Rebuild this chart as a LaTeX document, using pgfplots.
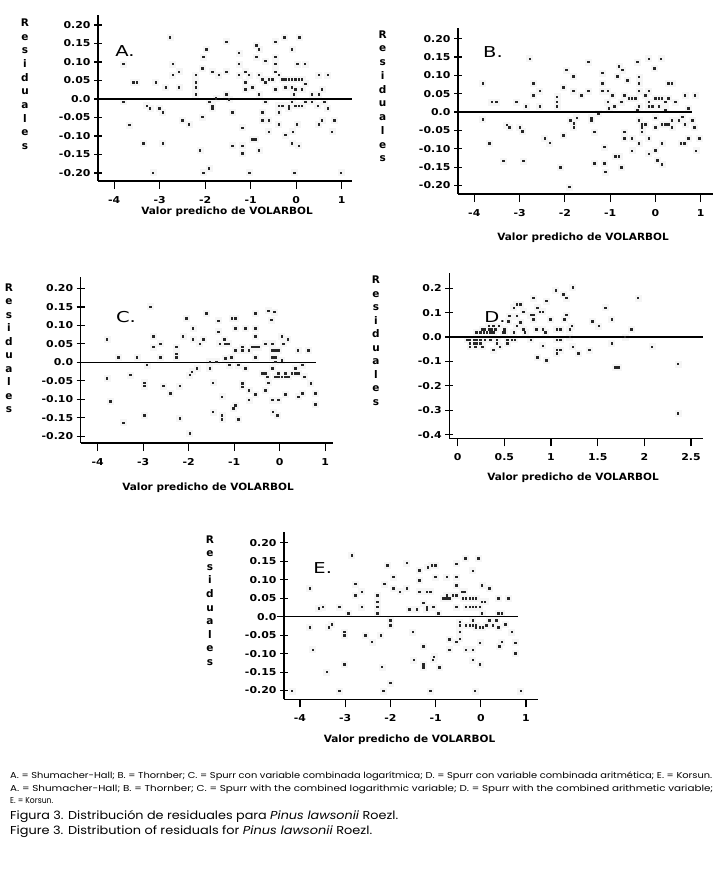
\documentclass[border=0pt]{standalone}
\usepackage{pgfplots}
\pgfplotsset{compat=1.18}
\usepackage{pgfplotstable}
\usepackage{fontspec}
\setmainfont{DejaVu Sans}
\newfontfamily\tickfont[FakeStretch=1.15]{DejaVu Sans}
\newfontfamily\labfont[FakeStretch=1.05]{DejaVu Sans}
\newfontfamily\capfont{Poppins}

\pgfplotstableread{
x y
-2.78 0.167
-0.26 0.167
0.07 0.167
-1.54 0.155
-0.46 0.155
-1.98 0.134
-0.88 0.146
-0.82 0.134
-0.10 0.134
-1.26 0.125
-3.80 0.095
-2.72 0.095
-2.05 0.114
-1.26 0.095
-0.88 0.114
-0.68 0.103
-0.46 0.095
-0.46 0.114
0.02 0.095
0.19 0.095
-2.07 0.083
-3.58 0.045
-3.51 0.045
-3.09 0.045
-2.87 0.032
-2.72 0.065
-2.58 0.074
-2.58 0.032
-2.21 0.065
-2.21 0.045
-2.21 0.032
-2.21 0.013
-1.85 0.074
-1.71 0.065
-1.54 0.074
-1.26 0.065
-1.12 0.074
-1.12 0.045
-1.12 0.026
-1.04 0.065
-0.97 0.032
-0.82 0.065
-0.75 0.053
-0.61 0.053
-0.53 0.053
-0.46 0.074
-0.39 0.065
-0.31 0.053
-0.24 0.053
-0.17 0.053
-0.10 0.053
-0.02 0.053
0.05 0.053
0.12 0.053
-0.24 0.032
-0.10 0.032
-0.02 0.026
0.12 0.026
0.20 0.042
-0.46 0.026
-0.68 0.045
0.49 0.065
0.69 0.065
0.56 0.026
0.34 0.013
0.49 0.013
-0.82 0.013
-1.54 0.013
-0.06 0.013
-3.80 -0.007
-1.77 0.002
-1.48 0.000
-1.91 -0.007
-1.85 -0.018
-1.85 -0.025
-0.68 -0.007
-0.10 -0.007
0.20 -0.007
0.34 -0.007
0.61 -0.007
-3.29 -0.018
-3.22 -0.025
-3.01 -0.025
-2.94 -0.036
-0.39 -0.018
-0.31 -0.018
-0.39 -0.036
-0.17 -0.018
-0.02 -0.018
0.05 -0.018
0.12 -0.018
-0.17 -0.025
0.47 -0.018
0.69 -0.025
-0.75 -0.036
-1.41 -0.036
-2.07 -0.048
-2.51 -0.057
-2.36 -0.068
-0.75 -0.057
-0.61 -0.057
-0.39 -0.068
0.56 -0.057
0.83 -0.057
-3.67 -0.070
0.01 -0.068
0.49 -0.068
-1.19 -0.077
-0.61 -0.088
-0.08 -0.088
-0.24 -0.097
0.78 -0.088
-0.97 -0.108
-0.90 -0.108
-3.36 -0.120
-2.94 -0.120
-1.41 -0.126
-1.19 -0.126
-0.82 -0.138
-0.10 -0.120
0.05 -0.126
-2.12 -0.138
-1.19 -0.147
-1.92 -0.187
-3.15 -0.199
-2.05 -0.199
-1.03 -0.199
-0.04 -0.199
0.98 -0.199
}\dataA

\pgfplotstableread{
x y
-3.82 0.078
-3.82 -0.020
-3.62 0.028
-3.52 0.028
-3.07 0.028
-2.86 0.016
-2.78 0.146
-2.70 0.078
-2.70 0.046
-2.56 0.058
-2.56 0.016
-3.29 -0.035
-3.23 -0.042
-3.00 -0.042
-2.94 -0.052
-3.67 -0.085
-3.36 -0.133
-2.92 -0.133
-2.45 -0.072
-2.34 -0.084
-2.18 0.042
-2.18 0.028
-2.18 0.016
-2.04 0.067
-1.97 0.115
-1.82 0.098
-1.82 0.058
-2.04 -0.063
-2.10 -0.151
-1.90 -0.204
-1.88 -0.022
-1.81 -0.031
-1.81 -0.042
-1.74 -0.015
-1.64 0.046
-1.49 0.058
-1.49 0.137
-1.42 -0.015
-1.42 -0.022
-1.35 -0.054
-1.35 -0.140
-1.27 -0.004
-1.18 0.107
-1.18 0.078
-1.18 0.058
-1.13 -0.095
-1.13 -0.140
-1.11 -0.163
-1.06 0.058
-1.06 0.028
-1.03 0.010
-0.96 0.046
-0.91 0.016
-0.89 -0.120
-0.81 -0.120
-0.84 0.098
-0.81 0.125
-0.74 0.115
-0.76 0.028
-0.76 -0.151
-0.69 0.046
-0.69 -0.054
-0.69 -0.072
-0.62 0.087
-0.59 0.037
-0.52 -0.105
-0.52 0.037
-0.52 -0.072
-0.45 0.037
-0.40 0.137
-0.37 0.096
-0.37 0.078
-0.37 0.058
-0.37 0.016
-0.40 0.007
-0.37 -0.022
-0.37 -0.085
-0.30 -0.033
-0.30 -0.042
-0.30 -0.054
-0.23 -0.033
-0.23 0.046
-0.15 0.146
-0.15 0.058
-0.15 0.028
-0.15 0.016
-0.15 -0.072
-0.15 -0.113
-0.07 0.016
-0.03 0.119
-0.01 0.037
-0.01 -0.015
-0.01 -0.042
-0.01 -0.104
0.04 -0.131
0.07 0.037
0.07 0.016
0.12 0.146
0.14 0.037
0.14 -0.033
0.14 -0.085
0.14 -0.142
0.21 0.028
0.21 0.007
0.21 -0.033
0.28 0.037
0.28 -0.033
0.36 0.078
0.28 0.078
0.36 -0.022
0.36 -0.042
0.43 0.028
0.51 -0.022
0.59 -0.013
0.65 0.046
0.63 -0.085
0.65 -0.033
0.72 0.010
0.72 -0.072
0.81 -0.022
0.87 0.046
0.85 -0.042
0.89 -0.105
0.97 -0.072
0.56 -0.085
}\dataB

\pgfplotstableread{
x y
-3.80 0.062
-3.80 -0.043
-3.73 -0.106
-3.55 0.014
-3.44 -0.163
-3.29 -0.034
-3.14 0.014
-2.92 -0.007
-2.98 -0.055
-2.98 -0.064
-2.98 -0.143
-2.85 0.151
-2.78 0.071
-2.78 0.042
-2.63 0.051
-2.63 0.014
-2.56 -0.064
-2.41 -0.084
-2.28 0.042
-2.28 0.024
-2.28 0.014
-2.20 -0.064
-2.20 -0.152
-2.13 0.071
-2.06 0.119
-1.98 -0.192
-1.98 -0.034
-1.93 -0.025
-1.91 0.092
-1.91 0.062
-1.82 -0.016
-1.76 0.051
-1.68 0.062
-1.62 0.133
-1.54 0.002
-1.54 -0.016
-1.47 -0.055
-1.47 -0.134
-1.40 0.002
-1.35 0.113
-1.35 0.083
-1.32 0.051
-1.27 -0.093
-1.27 -0.143
-1.27 -0.154
-1.22 0.062
-1.20 0.051
-1.13 0.051
-1.20 0.011
-1.11 -0.007
-1.07 0.014
-1.05 0.119
-0.98 0.092
-0.98 0.119
-0.98 0.033
-1.02 -0.125
-0.98 -0.116
-0.91 -0.154
-0.91 -0.007
-0.83 0.033
-0.83 0.042
-0.83 -0.057
-0.83 -0.066
-0.76 -0.016
-0.76 0.092
-0.68 0.033
-0.68 -0.075
-0.68 -0.102
-0.61 0.042
-0.54 0.133
-0.54 0.092
-0.54 0.071
-0.54 0.042
-0.54 0.014
-0.54 -0.086
-0.47 0.042
-0.39 -0.030
-0.32 -0.030
-0.25 -0.055
-0.32 0.051
-0.17 0.051
-0.32 -0.075
-0.28 -0.039
-0.17 0.033
-0.17 0.014
-0.10 0.014
-0.10 0.033
-0.03 0.033
-0.12 0.137
-0.19 0.115
-0.25 0.140
-0.17 -0.016
-0.17 -0.102
-0.15 -0.134
-0.06 -0.143
-0.10 -0.039
-0.03 -0.030
-0.03 -0.039
-0.03 -0.102
-0.10 0.002
0.04 0.071
0.04 -0.039
0.04 0.006
0.12 -0.030
0.12 -0.039
0.08 0.051
0.17 0.062
0.12 -0.086
0.19 -0.039
0.26 -0.030
0.34 -0.016
0.34 -0.030
0.41 -0.030
0.40 0.033
0.49 -0.007
0.54 -0.039
0.41 -0.093
0.49 -0.084
0.63 0.033
0.68 -0.057
0.78 -0.084
0.78 -0.113
}\dataC

\pgfplotstableread{
x y
0.26 0.033
0.29 0.033
0.33 0.033
0.36 0.033
0.40 0.033
0.20 0.019
0.24 0.019
0.28 0.019
0.31 0.019
0.35 0.019
0.38 0.019
0.49 0.019
0.60 0.019
0.33 0.046
0.38 0.046
0.44 0.046
0.10 -0.011
0.13 -0.011
0.17 -0.011
0.20 -0.011
0.24 -0.011
0.29 -0.011
0.35 -0.011
0.42 -0.011
0.53 -0.011
0.58 -0.011
0.61 -0.011
0.13 -0.026
0.17 -0.026
0.20 -0.026
0.24 -0.026
0.42 -0.026
0.53 -0.026
0.13 -0.039
0.19 -0.039
0.26 -0.039
0.45 -0.039
0.38 -0.053
0.50 0.033
0.50 0.019
0.54 0.064
0.55 0.087
0.60 0.121
0.63 0.134
0.67 0.134
0.63 0.087
0.63 0.046
0.67 0.060
0.70 0.104
0.70 0.033
0.72 0.019
0.78 0.091
0.81 0.091
0.81 0.161
0.81 0.073
0.78 -0.011
0.84 0.033
0.85 0.121
0.85 -0.083
0.88 0.104
0.91 0.104
0.91 0.033
0.91 -0.035
0.94 0.019
0.95 0.148
0.95 -0.096
0.99 0.073
1.05 0.191
1.06 0.033
1.06 -0.011
1.06 -0.053
1.06 -0.066
1.10 0.033
1.10 -0.011
1.10 -0.053
1.13 0.175
1.14 0.073
1.16 0.161
1.16 0.091
1.20 0.033
1.20 0.001
1.22 0.046
1.23 0.205
1.23 -0.039
1.29 -0.066
1.41 -0.053
1.44 0.064
1.51 0.046
1.58 0.121
1.65 0.073
1.65 -0.026
1.69 -0.123
1.72 -0.123
1.79 0.001
1.86 0.033
1.93 0.161
2.08 -0.039
2.36 -0.110
2.36 -0.313
}\dataD

\pgfplotstableread{
x y
-4.18 -0.201
-3.79 0.077
-3.79 -0.029
-3.72 -0.089
-3.59 0.023
-3.50 0.027
-3.37 -0.029
-3.30 -0.020
-3.41 -0.149
-3.13 0.027
-3.13 -0.201
-3.02 -0.041
-3.02 -0.050
-3.02 -0.128
-2.93 0.009
-2.86 0.167
-2.78 0.089
-2.78 0.059
-2.64 0.027
-2.64 0.068
-2.56 -0.050
-2.41 -0.068
-2.29 0.059
-2.29 0.041
-2.29 0.027
-2.29 0.009
-2.22 -0.050
-2.19 -0.136
-2.16 -0.201
-2.14 0.089
-2.07 0.140
-2.01 -0.179
-2.00 -0.009
-2.00 -0.023
-1.94 0.077
-1.94 0.108
-1.79 0.068
-1.64 0.077
-1.64 0.146
-1.58 0.020
-1.51 -0.041
-1.49 -0.117
-1.42 0.020
-1.36 0.126
-1.36 0.099
-1.36 0.068
-1.27 -0.080
-1.27 -0.128
-1.27 -0.137
-1.27 0.038
-1.20 0.027
-1.20 0.068
-1.12 0.068
-1.20 0.020
-1.09 0.140
-1.01 0.140
-1.05 0.027
-1.01 0.108
-1.04 -0.108
-1.06 -0.116
-0.92 -0.137
-0.94 0.009
-0.83 0.050
-0.76 0.059
-0.76 0.108
-0.77 0.050
-0.70 0.050
-0.70 -0.061
-0.70 -0.089
-0.62 0.059
-0.55 0.059
-0.55 0.144
-0.55 0.108
-0.55 0.086
-0.55 0.027
-0.55 -0.068
-0.47 -0.014
-0.47 -0.023
-0.47 -0.041
-0.47 -0.059
-0.42 0.068
-0.37 0.068
-0.35 0.158
-0.40 0.050
-0.33 0.050
-0.25 0.050
-0.18 0.050
-0.11 0.050
-0.33 0.027
-0.25 0.027
-0.18 0.027
-0.11 0.027
-0.03 0.027
-0.33 -0.089
-0.18 -0.089
-0.18 -0.117
-0.33 -0.023
-0.25 -0.023
-0.18 -0.023
-0.11 -0.023
-0.11 -0.029
-0.03 -0.029
0.04 -0.029
-0.18 0.125
-0.18 -0.009
-0.06 0.158
-0.02 -0.070
-0.02 -0.128
0.02 0.086
0.02 0.041
0.09 0.041
0.02 0.009
0.12 -0.023
0.19 0.077
0.19 -0.009
0.26 -0.023
0.34 -0.009
0.39 0.050
0.39 0.009
0.39 -0.029
0.41 -0.080
0.46 0.009
0.46 -0.068
0.54 -0.020
0.61 0.050
0.68 -0.041
0.76 -0.070
0.76 -0.099
0.88 -0.201
-0.13 -0.201
-1.12 -0.201
-1.18 0.134
}\dataE

\pgfplotsset{
  resid/.style={
    scale only axis, anchor=north west, clip=false, clip mode=individual,
    axis lines=left, axis line style={-, line width=1.1pt},
    every tick/.style={black, line width=1.1pt},
    xtick align=outside, ytick align=center, major tick length=8pt,
    ticklabel style={font=\tickfont\bfseries\fontsize{9.5}{11}\selectfont},
    xticklabel style={yshift=-4pt},
    xtick={-4,-3,-2,-1,0,1}, xticklabels={-4,-3,-2,-1,0,1},
    ytick={-0.20,-0.15,-0.10,-0.05,0,0.05,0.10,0.15,0.20},
    yticklabels={-0.20,-0.15,-0.10,-0.05,0.0,0.05,0.10,0.15,0.20},
  },
  halo/.style={only marks, mark=square*, mark size=3pt, color=gray!8},
  dot/.style={only marks, mark=square*, mark size=0.75pt, color=black!85},
  zero/.style={black, line width=1.5pt},
}

\newcommand\residlabel[3]{%
  \foreach \c [count=\i from 0] in {R,e,s,i,d,u,a,l,e,s} {%
    \node[anchor=base, inner sep=0pt, font=\bfseries\fontsize{10.5}{12}\selectfont] at (#1pt,{-(#2+\i*#3)*1pt-3.8pt}) {\c};}}

\begin{document}
\begin{tikzpicture}
\useasboundingbox (0,0) rectangle (723pt,-869pt);
\fill[white] (0,0) rectangle (723pt,-869pt);

% ---- A ----
\begin{axis}[resid, at={(98pt,-15pt)}, width=254pt, height=166pt,
  xmin=-4.357, xmax=1.225, ymin=-0.2216, ymax=0.227]
  \addplot[halo] table {\dataA};
  \addplot[zero] coordinates {(-4.27,0) (1.225,0)};
  \addplot[dot] table {\dataA};
\end{axis}
% ---- B ----
\begin{axis}[resid, at={(458pt,-28pt)}, width=255pt, height=166pt,
  xmin=-4.36, xmax=1.27, ymin=-0.2234, ymax=0.229]
  \addplot[halo] table {\dataB};
  \addplot[zero] coordinates {(-4.32,0) (0.81,0)};
  \addplot[dot] table {\dataB};
\end{axis}
% ---- C ----
\begin{axis}[resid, at={(80.7pt,-276.7pt)}, width=252.3pt, height=166.3pt,
  xmin=-4.374, xmax=1.171, ymin=-0.2187, ymax=0.232]
  \addplot[halo] table {\dataC};
  \addplot[zero] coordinates {(-4.35,0) (0.80,0)};
  \addplot[dot] table {\dataC};
\end{axis}
% ---- D ----
\begin{axis}[resid, at={(449.3pt,-273.3pt)}, width=254pt, height=165pt,
  xmin=-0.09, xmax=2.632, ymin=-0.415, ymax=0.261,
  xtick={0,0.5,1,1.5,2,2.5}, xticklabels={0,0.5,1,1.5,2,2.5},
  ytick={-0.4,-0.3,-0.2,-0.1,0,0.1,0.2},
  yticklabels={-0.4,-0.3,-0.2,-0.1,0.0,0.1,0.2}]
  \addplot[halo] table {\dataD};
  \addplot[zero] coordinates {(-0.09,0) (2.632,0)};
  \addplot[dot] table {\dataD};
\end{axis}
% ---- E ----
\begin{axis}[resid, at={(284pt,-531.7pt)}, width=254.3pt, height=167.6pt,
  xmin=-4.354, xmax=1.272, ymin=-0.2238, ymax=0.2304]
  \addplot[halo] table {\dataE};
  \addplot[zero] coordinates {(-4.515,0) (0.83,0)};
  \addplot[dot] table {\dataE};
\end{axis}

% x labels
\begin{scope}[every node/.style={font=\labfont\bfseries\fontsize{10}{12}\selectfont, inner sep=0pt}]
\node at (227pt,-212pt) {Valor predicho de VOLARBOL};
\node at (583pt,-238pt) {Valor predicho de VOLARBOL};
\node at (208pt,-487.7pt) {Valor predicho de VOLARBOL};
\node at (573pt,-477.3pt) {Valor predicho de VOLARBOL};
\node at (409.5pt,-740pt) {Valor predicho de VOLARBOL};
\end{scope}

% y labels
\residlabel{25}{22.7}{13.67}
\residlabel{382.7}{34.3}{13.74}
\residlabel{9}{287.3}{13.52}
\residlabel{376}{280}{13.52}
\residlabel{210}{539.3}{13.6}

% panel letters
\begin{scope}[every node/.style={font=\fontsize{15}{17}\selectfont, inner sep=0pt}]
\node at (125pt,-51pt) {\scalebox{1.3}[1]{A.}};
\node at (493pt,-51.7pt) {\scalebox{1.3}[1]{B.}};
\node at (126pt,-317.3pt) {\scalebox{1.3}[1]{C.}};
\node at (495pt,-317.3pt) {\scalebox{1.3}[1]{D.}};
\node at (322.7pt,-568.3pt) {\scalebox{1.3}[1]{E.}};
\end{scope}

% caption
\begin{scope}[every node/.style={anchor=base west, inner sep=0pt}]
\node at (10pt,-778pt) {\resizebox{702pt}{\height}{\capfont\fontsize{8.6}{9}\selectfont A. = Shumacher-Hall; B. = Thornber; C. = Spurr con variable combinada logarítmica; D. = Spurr con variable combinada aritmética; E. = Korsun.}};
\node at (10pt,-791pt) {\resizebox{703pt}{\height}{\capfont\fontsize{8.6}{9}\selectfont A. = Shumacher-Hall; B. = Thornber; C. = Spurr with the combined logarithmic variable; D. = Spurr with the combined arithmetic variable;}};
\node at (10pt,-803pt) {\resizebox{43pt}{\height}{\capfont\fontsize{8.6}{9}\selectfont E. = Korsun.}};
\node at (10pt,-819pt) {\resizebox{388pt}{\height}{\capfont\fontsize{11.5}{13}\selectfont Figura 3. Distribución de residuales para \textit{Pinus lawsonii} Roezl.}};
\node at (10pt,-834pt) {\resizebox{362pt}{\height}{\capfont\fontsize{11.5}{13}\selectfont Figure 3. Distribution of residuals for \textit{Pinus lawsonii} Roezl.}};
\end{scope}
\end{tikzpicture}
\end{document}
